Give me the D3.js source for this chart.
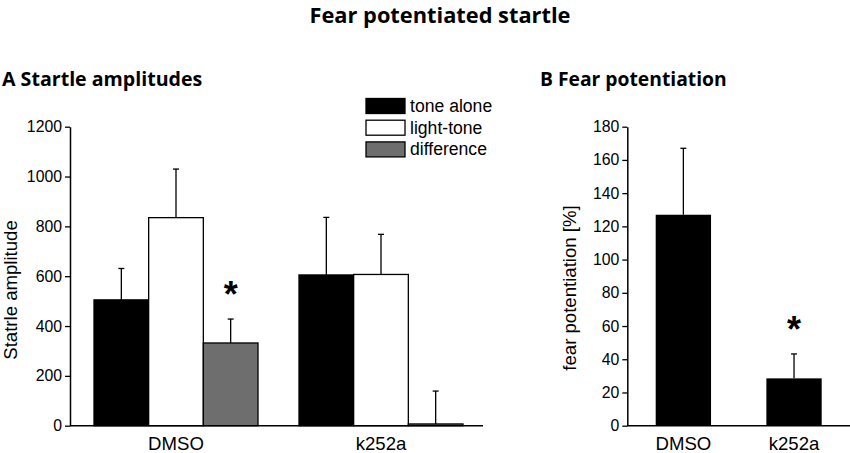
<!DOCTYPE html>
<html>
<head>
<meta charset="utf-8">
<script src="https://cdn.jsdelivr.net/npm/d3@7"></script>
<style>
  body { margin: 0; background: #fff; }
  svg text { font-family: "Liberation Sans", Arial, sans-serif; }
  .title { font-family: "Open Sans", sans-serif !important; font-weight: bold; }
</style>
</head>
<body>
<svg id="chart" width="850" height="453"></svg>
<script>
// panel A data
var groupsA = ["DMSO", "k252a"];
var seriesA = ["tone alone", "light-tone", "difference"];
var colorsA = ["#000000", "#ffffff", "#6e6e6e"];
var toneAlone = [505, 605];
var lightTone = [835, 607];
var difference = [332, 7];
var toneAloneErr = [126, 231];
var lightToneErr = [195, 161];
var differenceErr = [96, 132];
var ticksA = [0, 200, 400, 600, 800, 1000, 1200];

// panel B data
var groupsB = ["DMSO", "k252a"];
var fearPot = [127, 28.5];
var fearPotErr = [40, 14.7];
var ticksB = [0, 20, 40, 60, 80, 100, 120, 140, 160, 180];

var svg = d3.select("#chart");

svg.append("text")
    .attr("class", "title")
    .attr("x", 440)
    .attr("y", 23)
    .attr("text-anchor", "middle")
    .style("font-size", "21.8px")
    .text("Fear potentiated startle");

// ---------- panel A ----------
var yA = d3.scaleLinear().domain([0, 1200]).range([425.7, 126.7]);
var xA = d3.scaleBand().domain(groupsA).range([94, 463]).paddingInner(0.2);
var xSub = d3.scaleBand().domain(seriesA).range([0, xA.bandwidth()]);

var rowsA = [];
groupsA.forEach((g, i) => {
    rowsA.push({ group: g, series: seriesA[0], value: toneAlone[i], err: toneAloneErr[i] });
    rowsA.push({ group: g, series: seriesA[1], value: lightTone[i], err: lightToneErr[i] });
    rowsA.push({ group: g, series: seriesA[2], value: difference[i], err: differenceErr[i] });
});

svg.append("text")
    .attr("class", "title")
    .attr("x", 2)
    .attr("y", 86)
    .style("font-size", "19.6px")
    .text("A Startle amplitudes");

var panelA = svg.append("g");

// error bars first so the bar covers the stem
var errA = panelA.selectAll(".errA").data(rowsA).enter().append("g").classed("errA", true);
errA.append("line")
    .attr("x1", d => xA(d.group) + xSub(d.series) + xSub.bandwidth() / 2)
    .attr("x2", d => xA(d.group) + xSub(d.series) + xSub.bandwidth() / 2)
    .attr("y1", d => yA(d.value))
    .attr("y2", d => yA(d.value + d.err))
    .attr("stroke", "#000").attr("stroke-width", 1.3);
errA.append("line")
    .attr("x1", d => xA(d.group) + xSub(d.series) + xSub.bandwidth() / 2 - 3)
    .attr("x2", d => xA(d.group) + xSub(d.series) + xSub.bandwidth() / 2 + 3)
    .attr("y1", d => yA(d.value + d.err))
    .attr("y2", d => yA(d.value + d.err))
    .attr("stroke", "#000").attr("stroke-width", 1.3);

panelA.selectAll(".barA").data(rowsA).enter().append("rect")
    .classed("barA", true)
    .attr("x", d => xA(d.group) + xSub(d.series))
    .attr("y", d => yA(d.value))
    .attr("width", xSub.bandwidth())
    .attr("height", d => yA(0) - yA(d.value))
    .attr("fill", d => colorsA[seriesA.indexOf(d.series)])
    .attr("stroke", "#000")
    .attr("stroke-width", 1.3);

var axisA = panelA.append("g")
    .attr("transform", "translate(70,0)")
    .call(d3.axisLeft(yA).tickValues(ticksA).tickFormat(d3.format("d"))
        .tickSize(5).tickPadding(3).tickSizeOuter(0));
axisA.select(".domain").attr("stroke-width", 1.5);
axisA.selectAll(".tick line").attr("stroke-width", 1.3);
axisA.selectAll("text").style("font-size", "15.8px").style("font-family", "Liberation Sans");

panelA.append("line")
    .attr("x1", 70).attr("x2", 483)
    .attr("y1", yA(0)).attr("y2", yA(0))
    .attr("stroke", "#000").attr("stroke-width", 1.5);

panelA.selectAll(".xlabA").data(groupsA).enter().append("text")
    .attr("x", d => xA(d) + xA.bandwidth() / 2)
    .attr("y", 450)
    .attr("text-anchor", "middle")
    .style("font-size", "18.6px")
    .text(d => d);

panelA.append("text")
    .attr("transform", "translate(17,290) rotate(-90)")
    .attr("text-anchor", "middle")
    .style("font-size", "18.6px")
    .text("Statrle amplitude");

panelA.append("text")
    .attr("x", xA("DMSO") + xSub("difference") + xSub.bandwidth() / 2)
    .attr("y", 307)
    .attr("text-anchor", "middle")
    .style("font-size", "36px")
    .style("font-weight", "bold")
    .text("*");

// legend
var legend = panelA.selectAll(".legend").data(seriesA).enter().append("g")
    .attr("transform", (d, i) => "translate(366," + (98.5 + i * 21.7) + ")");
legend.append("rect")
    .attr("width", 39).attr("height", 15)
    .attr("fill", (d, i) => colorsA[i])
    .attr("stroke", "#000").attr("stroke-width", 1.3);
legend.append("text")
    .attr("x", 44).attr("y", 13.5)
    .style("font-size", "17.6px")
    .text(d => d);

// ---------- panel B ----------
var yB = d3.scaleLinear().domain([0, 180]).range([425.7, 126.7]);
var xB = d3.scaleBand().domain(groupsB).range([655.7, 821.7]).paddingInner(0.5);

svg.append("text")
    .attr("class", "title")
    .attr("x", 540)
    .attr("y", 86)
    .style("font-size", "19.3px")
    .text("B Fear potentiation");

var panelB = svg.append("g");

var rowsB = groupsB.map((g, i) => ({ group: g, value: fearPot[i], err: fearPotErr[i] }));

var errB = panelB.selectAll(".errB").data(rowsB).enter().append("g");
errB.append("line")
    .attr("x1", d => xB(d.group) + xB.bandwidth() / 2)
    .attr("x2", d => xB(d.group) + xB.bandwidth() / 2)
    .attr("y1", d => yB(d.value))
    .attr("y2", d => yB(d.value + d.err))
    .attr("stroke", "#000").attr("stroke-width", 1.3);
errB.append("line")
    .attr("x1", d => xB(d.group) + xB.bandwidth() / 2 - 3)
    .attr("x2", d => xB(d.group) + xB.bandwidth() / 2 + 3)
    .attr("y1", d => yB(d.value + d.err))
    .attr("y2", d => yB(d.value + d.err))
    .attr("stroke", "#000").attr("stroke-width", 1.3);

panelB.selectAll(".barB").data(rowsB).enter().append("rect")
    .attr("x", d => xB(d.group))
    .attr("y", d => yB(d.value))
    .attr("width", xB.bandwidth())
    .attr("height", d => yB(0) - yB(d.value))
    .attr("fill", "#000");

var axisB = panelB.append("g")
    .attr("transform", "translate(627.3,0)")
    .call(d3.axisLeft(yB).tickValues(ticksB).tickSize(5).tickPadding(3).tickSizeOuter(0));
axisB.select(".domain").attr("stroke-width", 1.5);
axisB.selectAll(".tick line").attr("stroke-width", 1.3);
axisB.selectAll("text").style("font-size", "15.8px").style("font-family", "Liberation Sans");

panelB.append("line")
    .attr("x1", 627.3).attr("x2", 850)
    .attr("y1", yB(0)).attr("y2", yB(0))
    .attr("stroke", "#000").attr("stroke-width", 1.5);

panelB.selectAll(".xlabB").data(groupsB).enter().append("text")
    .attr("x", d => xB(d) + xB.bandwidth() / 2)
    .attr("y", 450)
    .attr("text-anchor", "middle")
    .style("font-size", "18.6px")
    .text(d => d);

panelB.append("text")
    .attr("transform", "translate(576,288) rotate(-90)")
    .attr("text-anchor", "middle")
    .style("font-size", "18.6px")
    .text("fear potentiation [%]");

panelB.append("text")
    .attr("x", xB("k252a") + xB.bandwidth() / 2)
    .attr("y", 342)
    .attr("text-anchor", "middle")
    .style("font-size", "36px")
    .style("font-weight", "bold")
    .text("*");
</script>
</body>
</html>
